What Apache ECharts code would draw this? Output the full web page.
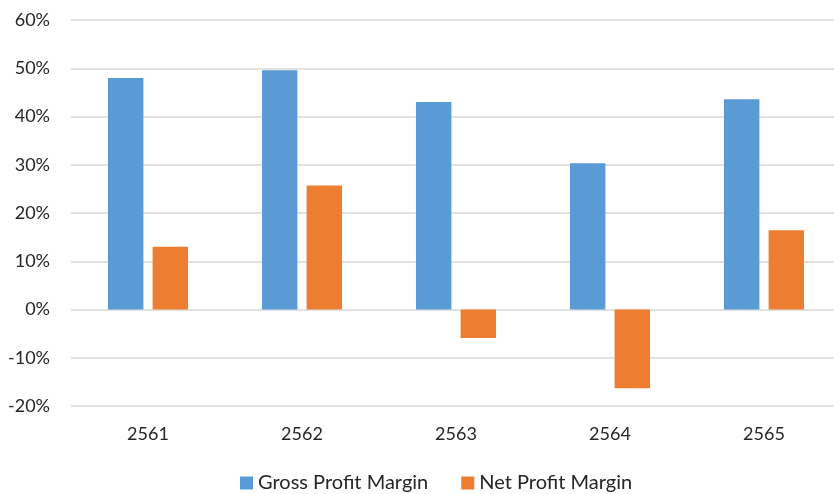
<!DOCTYPE html>
<html>
<head>
<meta charset="utf-8">
<script src="https://cdn.jsdelivr.net/npm/echarts@6/dist/echarts.min.js"></script>
<style>
  html, body { margin: 0; padding: 0; background: #fff; }
  #main { width: 834px; height: 494px; }
</style>
</head>
<body>
<div id="main"></div>
<script>
var years = ['2561', '2562', '2563', '2564', '2565'];
var grossMargin = [48.0, 49.6, 43.0, 30.3, 43.6];
var netMargin = [13.0, 25.7, -5.9, -16.3, 16.4];

var myChart = echarts.init(document.getElementById('main'));
var font = 'Lato, "Noto Sans", sans-serif';

option = {
    backgroundColor: '#ffffff',
    animation: false,
    grid: { left: 71, width: 770, top: 20, height: 386, outerBoundsMode: 'none', containLabel: false },
    legend: {
        top: 468,
        left: 235,
        itemWidth: 13,
        itemHeight: 13,
        itemGap: 33,
        icon: 'rect',
        textStyle: { fontFamily: font, fontSize: 20, color: '#262626' },
        data: ['Gross Profit Margin', 'Net Profit Margin']
    },
    xAxis: {
        type: 'category',
        data: years,
        axisLine: { show: false },
        axisTick: { show: false },
        axisLabel: { fontFamily: font, fontSize: 18, color: '#262626', margin: 19 }
    },
    yAxis: {
        type: 'value',
        min: -20,
        max: 60,
        interval: 10,
        axisLine: { show: false },
        axisTick: { show: false },
        splitLine: { lineStyle: { color: '#d9d9d9', width: 1.5 } },
        axisLabel: {
            fontFamily: font, fontSize: 18, color: '#262626', margin: 21,
            formatter: '{value}%'
        }
    },
    series: [
        {
            name: 'Gross Profit Margin',
            type: 'bar',
            data: grossMargin,
            barWidth: '23%',
            barGap: '26%',
            itemStyle: { color: '#5b9bd5' }
        },
        {
            name: 'Net Profit Margin',
            type: 'bar',
            data: netMargin,
            barWidth: '23%',
            itemStyle: { color: '#ed7d31' }
        }
    ]
};

myChart.setOption(option, true);
</script>
</body>
</html>
